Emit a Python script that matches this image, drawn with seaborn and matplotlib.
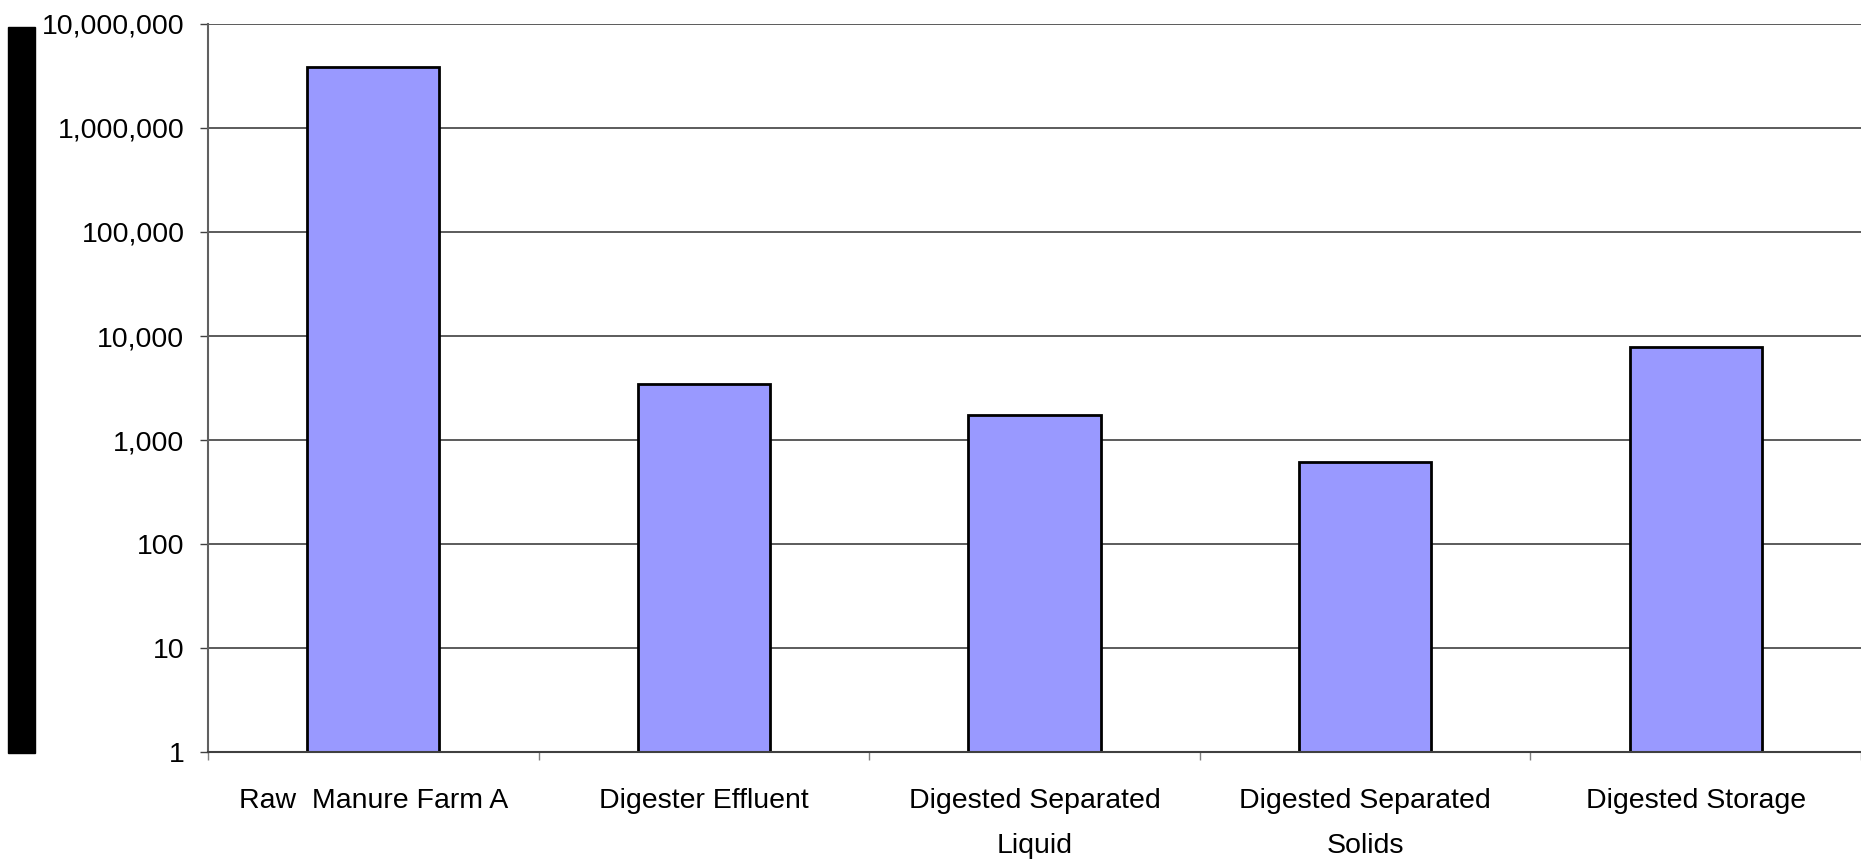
import numpy as np
import pandas as pd
import matplotlib
matplotlib.use('Agg')
import matplotlib.pyplot as plt
import matplotlib.ticker as mticker
from matplotlib.patches import Rectangle
import seaborn as sns

# ── Dados ────────────────────────────────────────────────────────────────────
categorias = ['Raw  Manure Farm A', 'Digester Effluent',
              'Digested Separated\nLiquid', 'Digested Separated\nSolids',
              'Digested Storage']
valores = [3900000, 3450, 1740, 620, 7800]
y_ticks = [1, 10, 100, 1000, 10000, 100000, 1000000, 10000000]

df = pd.DataFrame({'cat': categorias, 'val': valores})

sns.set_style('white')
plt.rcParams['font.family'] = ['Liberation Sans', 'DejaVu Sans']
plt.rcParams['text.color'] = 'black'
plt.rcParams['xtick.labelcolor'] = 'black'
plt.rcParams['ytick.labelcolor'] = 'black'

fig = plt.figure(figsize=(18.61, 8.63), dpi=100)
ax = fig.add_axes([0.1118, 0.1286, 0.8882, 0.8436])

sns.barplot(data=df, x='cat', y='val', color='#9999FF', saturation=1,
            edgecolor='black', linewidth=2, width=0.4, ax=ax)

ax.set_yscale('log')
ax.set_ylim(1, 1e7)
ax.set_xlim(-0.5, len(categorias) - 0.5)
ax.set_yticks(y_ticks)
ax.yaxis.set_major_formatter(mticker.FuncFormatter(lambda v, p: f'{v:,.0f}'))
ax.yaxis.set_minor_locator(mticker.NullLocator())

# marcas do eixo x nas fronteiras das categorias
ax.set_xticks(np.arange(len(categorias)))
ax.set_xticklabels(categorias, linespacing=1.95)
ax.set_xticks(np.arange(len(categorias) + 1) - 0.5, minor=True)
ax.tick_params(axis='x', which='major', length=0, pad=26, labelsize=20.5)
ax.tick_params(axis='x', which='minor', length=6, width=1, color='#808080',
               direction='out', bottom=True)
ax.tick_params(axis='y', which='major', length=6, width=1, color='#404040',
               direction='out', left=True, pad=11, labelsize=20.5)

ax.grid(axis='y', color='#404040', linewidth=1.2)
ax.set_axisbelow(True)
for s in ['top', 'right']:
    ax.spines[s].set_visible(False)
ax.spines['left'].set_color('#606060')
ax.spines['left'].set_linewidth(1.5)
ax.spines['bottom'].set_color('#404040')
ax.spines['bottom'].set_linewidth(1.5)
ax.set_xlabel('')
ax.set_ylabel('')

# faixa preta à esquerda (rótulo ocultado no original)
fig.patches.append(Rectangle((8 / 1861, 1 - 753 / 863), 27 / 1861, 726 / 863,
                             transform=fig.transFigure, color='black'))

plt.savefig('out.png', dpi=100)
plt.close()
